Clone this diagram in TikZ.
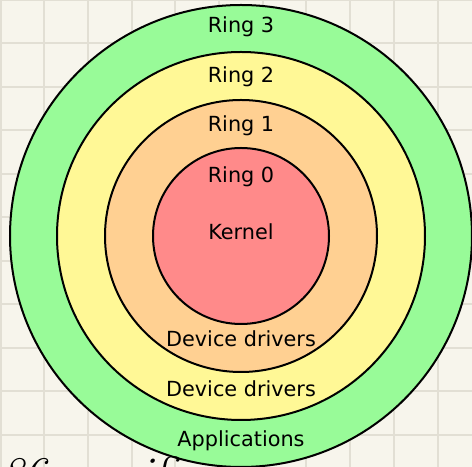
\documentclass[tikz,border=0pt]{standalone}
\usepackage{fontspec}
\setsansfont{DejaVu Sans}
\usepackage{xcolor}
\usepackage{tikz}
\usetikzlibrary{positioning}

\definecolor{paper}{RGB}{247,245,236}
\definecolor{paperline}{RGB}{226,223,212}
\definecolor{ringthree}{RGB}{152,251,152}
\definecolor{ringtwo}{RGB}{255,248,150}
\definecolor{ringone}{RGB}{255,208,146}
\definecolor{ringzero}{RGB}{255,138,138}

\begin{document}
\begin{tikzpicture}[
		x=0.75pt, y=0.75pt,
		every node/.style={font=\sffamily\fontsize{15.6}{18}\selectfont},
		ring/.style={circle, draw, line width=1.5pt, inner sep=0pt},
		ringtext/.style={anchor=base, text=black},
		hand/.style={anchor=base west, font=\itshape\fontsize{34}{36}\selectfont},
		gridline/.style={draw=paperline, line width=1.5pt}
		]
		
		% Paper
		\useasboundingbox (0,0) rectangle (472,467);
		\clip (0,0) rectangle (472,467);
		\fill[paper] (0,0) rectangle (472,467);
		\foreach \i in {0,...,10}
			\draw[gridline] (0.5+43.7*\i,0) -- (0.5+43.7*\i,467);
		\foreach \j in {0,...,10}
			\draw[gridline] (0,467-43.5*\j) -- (472,467-43.5*\j);
		
		% Rings
		\coordinate (centre) at (241,231);
		\node[ring, fill=ringthree, minimum size=346.5pt] (ring3) at (centre) {};
		\node[ring, fill=ringtwo, minimum size=276pt] (ring2) at (centre) {};
		\node[ring, fill=ringone, minimum size=204pt] (ring1) at (centre) {};
		\node[ring, fill=ringzero, minimum size=132pt] (ring0) at (centre) {};
		
		% Labels
		\node[ringtext] (r3) at (241,434) {Ring 3};
		\node[ringtext] (r2) at (241,384) {Ring 2};
		\node[ringtext] (r1) at (241,335) {Ring 1};
		\node[ringtext] (r0) at (241,284) {Ring 0};
		\node[ringtext] (kernel) at (241,227) {Kernel};
		\node[ringtext] (drv1) at (241,120) {Device drivers};
		\node[ringtext] (drv2) at (241,70) {Device drivers};
		\node[ringtext] (apps) at (241,20) {Applications};
		
		% Note
		\node[hand] (note) at (-24,-22) {x86 specific};
		
	\end{tikzpicture}
\end{document}
